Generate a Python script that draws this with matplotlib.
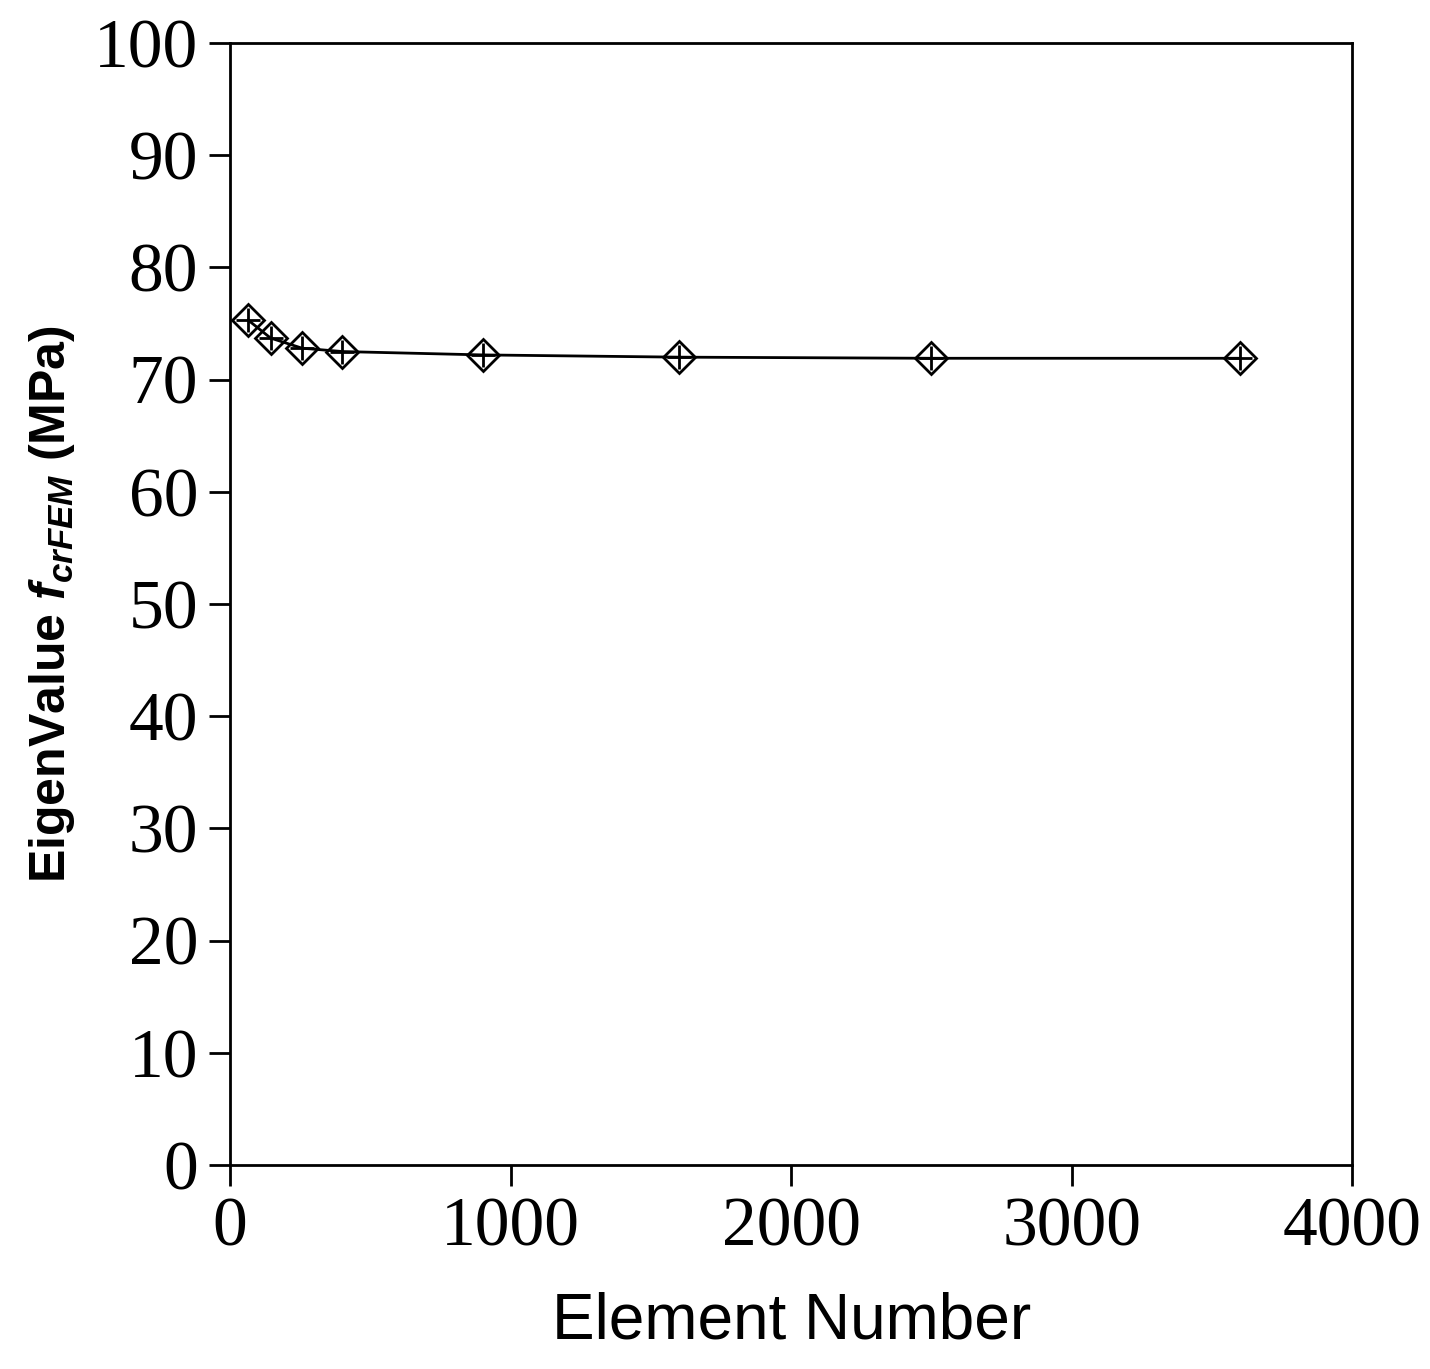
import matplotlib.pyplot as plt

element_number = [64, 144, 256, 400, 900, 1600, 2500, 3600]
eigen_value = [75.3, 73.7, 72.8, 72.5, 72.2, 72.0, 71.9, 71.9]

plt.rcParams["mathtext.fontset"] = "custom"
plt.rcParams["mathtext.bfit"] = "Liberation Sans:bold:italic"
plt.rcParams["mathtext.it"] = "Liberation Sans:bold:italic"

fig = plt.figure(figsize=(14.3, 13.69), dpi=100)
ax = fig.add_axes([0.161, 0.149, 0.7845, 0.8196])

ax.plot(element_number, eigen_value, color="black", lw=2, marker="D", ms=16,
        mfc="none", mec="black", mew=2)
ax.plot(element_number, eigen_value, ls="none", marker="+", ms=17,
        color="black", mew=2)

ax.set_xlim(0, 4000)
ax.set_ylim(0, 100)
ax.set_xticks(range(0, 4001, 1000))
ax.set_yticks(range(0, 101, 10))
for s in ax.spines.values():
    s.set_linewidth(2)
ax.tick_params(direction="out", length=15, width=2, labelsize=50, pad=8)
for lab in ax.get_xticklabels() + ax.get_yticklabels():
    lab.set_family("Liberation Serif")

ax.set_xlabel("Element Number", fontsize=46, family="Liberation Sans", labelpad=22)
ax.set_ylabel(r"EigenValue $f_{crFEM}$ (MPa)", fontsize=36,
              family="Liberation Sans", fontweight="bold", labelpad=12)

fig.savefig("out.png", dpi=100)
